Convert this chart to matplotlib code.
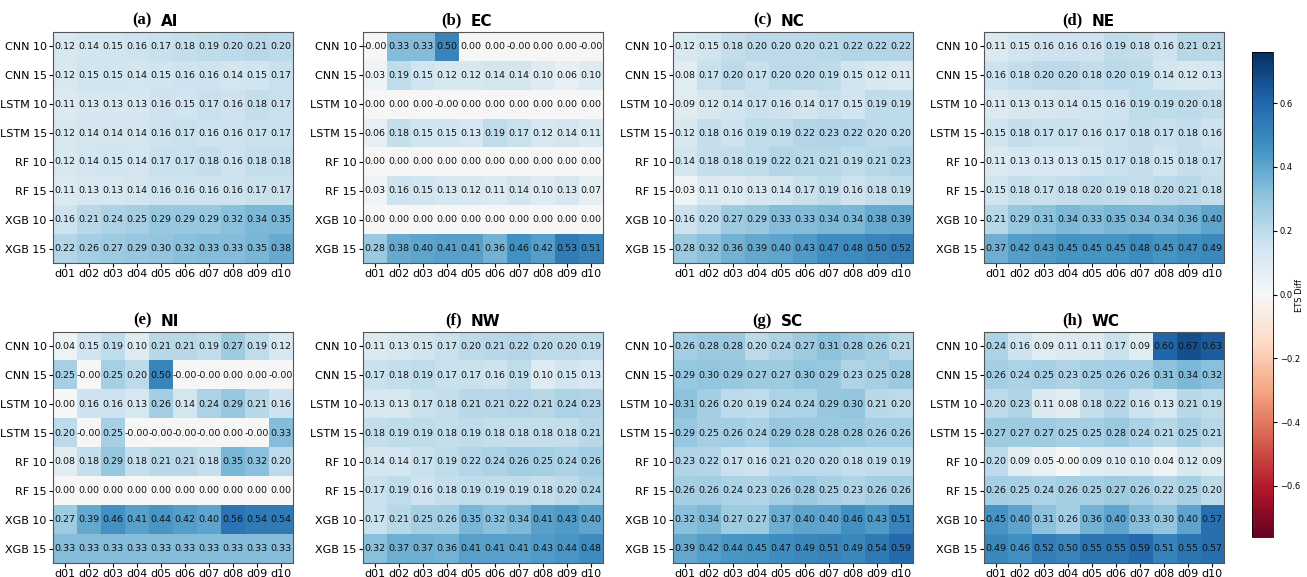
import numpy as np
import matplotlib
matplotlib.use("Agg")
import matplotlib.pyplot as plt

rows = ["CNN 10", "CNN 15", "LSTM 10", "LSTM 15", "RF 10", "RF 15", "XGB 10", "XGB 15"]
cols = ["d01", "d02", "d03", "d04", "d05", "d06", "d07", "d08", "d09", "d10"]

ai = [[0.12, 0.14, 0.15, 0.16, 0.17, 0.18, 0.19, 0.20, 0.21, 0.20],
      [0.12, 0.15, 0.15, 0.14, 0.15, 0.16, 0.16, 0.14, 0.15, 0.17],
      [0.11, 0.13, 0.13, 0.13, 0.16, 0.15, 0.17, 0.16, 0.18, 0.17],
      [0.12, 0.14, 0.14, 0.14, 0.16, 0.17, 0.16, 0.16, 0.17, 0.17],
      [0.12, 0.14, 0.15, 0.14, 0.17, 0.17, 0.18, 0.16, 0.18, 0.18],
      [0.11, 0.13, 0.13, 0.14, 0.16, 0.16, 0.16, 0.16, 0.17, 0.17],
      [0.16, 0.21, 0.24, 0.25, 0.29, 0.29, 0.29, 0.32, 0.34, 0.35],
      [0.22, 0.26, 0.27, 0.29, 0.30, 0.32, 0.33, 0.33, 0.35, 0.38]]

ec = [[-0.0, 0.33, 0.33, 0.50, 0.00, 0.00, -0.0, 0.00, 0.00, -0.0],
      [0.03, 0.19, 0.15, 0.12, 0.12, 0.14, 0.14, 0.10, 0.06, 0.10],
      [0.00, 0.00, 0.00, -0.0, 0.00, 0.00, 0.00, 0.00, 0.00, 0.00],
      [0.06, 0.18, 0.15, 0.15, 0.13, 0.19, 0.17, 0.12, 0.14, 0.11],
      [0.00, 0.00, 0.00, 0.00, 0.00, 0.00, 0.00, 0.00, 0.00, 0.00],
      [0.03, 0.16, 0.15, 0.13, 0.12, 0.11, 0.14, 0.10, 0.13, 0.07],
      [0.00, 0.00, 0.00, 0.00, 0.00, 0.00, 0.00, 0.00, 0.00, 0.00],
      [0.28, 0.38, 0.40, 0.41, 0.41, 0.36, 0.46, 0.42, 0.53, 0.51]]

nc = [[0.12, 0.15, 0.18, 0.20, 0.20, 0.20, 0.21, 0.22, 0.22, 0.22],
      [0.08, 0.17, 0.20, 0.17, 0.20, 0.20, 0.19, 0.15, 0.12, 0.11],
      [0.09, 0.12, 0.14, 0.17, 0.16, 0.14, 0.17, 0.15, 0.19, 0.19],
      [0.12, 0.18, 0.16, 0.19, 0.19, 0.22, 0.23, 0.22, 0.20, 0.20],
      [0.14, 0.18, 0.18, 0.19, 0.22, 0.21, 0.21, 0.19, 0.21, 0.23],
      [0.03, 0.11, 0.10, 0.13, 0.14, 0.17, 0.19, 0.16, 0.18, 0.19],
      [0.16, 0.20, 0.27, 0.29, 0.33, 0.33, 0.34, 0.34, 0.38, 0.39],
      [0.28, 0.32, 0.36, 0.39, 0.40, 0.43, 0.47, 0.48, 0.50, 0.52]]

ne = [[0.11, 0.15, 0.16, 0.16, 0.16, 0.19, 0.18, 0.16, 0.21, 0.21],
      [0.16, 0.18, 0.20, 0.20, 0.18, 0.20, 0.19, 0.14, 0.12, 0.13],
      [0.11, 0.13, 0.13, 0.14, 0.15, 0.16, 0.19, 0.19, 0.20, 0.18],
      [0.15, 0.18, 0.17, 0.17, 0.16, 0.17, 0.18, 0.17, 0.18, 0.16],
      [0.11, 0.13, 0.13, 0.13, 0.15, 0.17, 0.18, 0.15, 0.18, 0.17],
      [0.15, 0.18, 0.17, 0.18, 0.20, 0.19, 0.18, 0.20, 0.21, 0.18],
      [0.21, 0.29, 0.31, 0.34, 0.33, 0.35, 0.34, 0.34, 0.36, 0.40],
      [0.37, 0.42, 0.43, 0.45, 0.45, 0.45, 0.48, 0.45, 0.47, 0.49]]

ni = [[0.04, 0.15, 0.19, 0.10, 0.21, 0.21, 0.19, 0.27, 0.19, 0.12],
      [0.25, -0.0, 0.25, 0.20, 0.50, -0.0, -0.0, 0.00, 0.00, -0.0],
      [0.00, 0.16, 0.16, 0.13, 0.26, 0.14, 0.24, 0.29, 0.21, 0.16],
      [0.20, -0.0, 0.25, -0.0, -0.0, -0.0, -0.0, 0.00, -0.0, 0.33],
      [0.08, 0.18, 0.29, 0.18, 0.21, 0.21, 0.18, 0.35, 0.32, 0.20],
      [0.00, 0.00, 0.00, 0.00, 0.00, 0.00, 0.00, 0.00, 0.00, 0.00],
      [0.27, 0.39, 0.46, 0.41, 0.44, 0.42, 0.40, 0.56, 0.54, 0.54],
      [0.33, 0.33, 0.33, 0.33, 0.33, 0.33, 0.33, 0.33, 0.33, 0.33]]

nw = [[0.11, 0.13, 0.15, 0.17, 0.20, 0.21, 0.22, 0.20, 0.20, 0.19],
      [0.17, 0.18, 0.19, 0.17, 0.17, 0.16, 0.19, 0.10, 0.15, 0.13],
      [0.13, 0.13, 0.17, 0.18, 0.21, 0.21, 0.22, 0.21, 0.24, 0.23],
      [0.18, 0.19, 0.19, 0.18, 0.19, 0.18, 0.18, 0.18, 0.18, 0.21],
      [0.14, 0.14, 0.17, 0.19, 0.22, 0.24, 0.26, 0.25, 0.24, 0.26],
      [0.17, 0.19, 0.16, 0.18, 0.19, 0.19, 0.19, 0.18, 0.20, 0.24],
      [0.17, 0.21, 0.25, 0.26, 0.35, 0.32, 0.34, 0.41, 0.43, 0.40],
      [0.32, 0.37, 0.37, 0.36, 0.41, 0.41, 0.41, 0.43, 0.44, 0.48]]

sc = [[0.26, 0.28, 0.28, 0.20, 0.24, 0.27, 0.31, 0.28, 0.26, 0.21],
      [0.29, 0.30, 0.29, 0.27, 0.27, 0.30, 0.29, 0.23, 0.25, 0.28],
      [0.31, 0.26, 0.20, 0.19, 0.24, 0.24, 0.29, 0.30, 0.21, 0.20],
      [0.29, 0.25, 0.26, 0.24, 0.29, 0.28, 0.28, 0.28, 0.26, 0.26],
      [0.23, 0.22, 0.17, 0.16, 0.21, 0.20, 0.20, 0.18, 0.19, 0.19],
      [0.26, 0.26, 0.24, 0.23, 0.26, 0.28, 0.25, 0.23, 0.26, 0.26],
      [0.32, 0.34, 0.27, 0.27, 0.37, 0.40, 0.40, 0.46, 0.43, 0.51],
      [0.39, 0.42, 0.44, 0.45, 0.47, 0.49, 0.51, 0.49, 0.54, 0.59]]

wc = [[0.24, 0.16, 0.09, 0.11, 0.11, 0.17, 0.09, 0.60, 0.67, 0.63],
      [0.26, 0.24, 0.25, 0.23, 0.25, 0.26, 0.26, 0.31, 0.34, 0.32],
      [0.20, 0.23, 0.11, 0.08, 0.18, 0.22, 0.16, 0.13, 0.21, 0.19],
      [0.27, 0.27, 0.27, 0.25, 0.25, 0.28, 0.24, 0.21, 0.25, 0.21],
      [0.20, 0.09, 0.05, -0.0, 0.09, 0.10, 0.10, 0.04, 0.12, 0.09],
      [0.26, 0.25, 0.24, 0.26, 0.25, 0.27, 0.26, 0.22, 0.25, 0.20],
      [0.45, 0.40, 0.31, 0.26, 0.36, 0.40, 0.33, 0.30, 0.40, 0.57],
      [0.49, 0.46, 0.52, 0.50, 0.55, 0.55, 0.59, 0.51, 0.55, 0.57]]

panels = [("(a)", "AI", ai), ("(b)", "EC", ec), ("(c)", "NC", nc), ("(d)", "NE", ne),
          ("(e)", "NI", ni), ("(f)", "NW", nw), ("(g)", "SC", sc), ("(h)", "WC", wc)]

W, H = 1307, 577
fig = plt.figure(figsize=(W / 100, H / 100), dpi=100)

lefts = [53, 363, 673, 984]
tops = [32, 332]
ax_w, ax_h = 240, 231
vlim = 0.76

im = None
for k, (tag, name, data) in enumerate(panels):
    r, c = divmod(k, 4)
    x0 = lefts[c] / W
    y0 = 1 - (tops[r] + ax_h) / H
    ax = fig.add_axes([x0, y0, ax_w / W, ax_h / H])
    arr = np.array(data)
    im = ax.imshow(arr, cmap="RdBu", vmin=-vlim, vmax=vlim, aspect="auto")
    for i in range(arr.shape[0]):
        for j in range(arr.shape[1]):
            ax.text(j, i, f"{data[i][j]:.2f}", ha="center", va="center",
                    fontsize=6.8, color="#111111")
    ax.set_xticks(range(len(cols)))
    ax.set_xticklabels(cols)
    ax.set_yticks(range(len(rows)))
    ax.set_yticklabels(rows)
    ax.tick_params(labelsize=8, length=3, pad=1.5)
    for s in ax.spines.values():
        s.set_color("#555555")
        s.set_linewidth(0.8)
    ax.text(0.412, 1.015, tag, transform=ax.transAxes, ha="right", va="bottom",
            fontsize=12, fontweight="bold", family="Liberation Serif")
    ax.text(0.45, 1.015, name, transform=ax.transAxes, ha="left", va="bottom",
            fontsize=11, fontweight="bold")

cax = fig.add_axes([1252 / W, 1 - 537 / H, 21 / W, 485 / H])
cb = fig.colorbar(im, cax=cax)
cb.set_ticks([-0.6, -0.4, -0.2, 0.0, 0.2, 0.4, 0.6])
cb.ax.tick_params(labelsize=6, length=3, pad=2)
cb.outline.set_linewidth(0.6)
fig.text(1300 / W, 1 - 295 / H, "ETS Diff", rotation=90, ha="center", va="center",
         fontsize=6)

fig.savefig("out.png", dpi=100)
